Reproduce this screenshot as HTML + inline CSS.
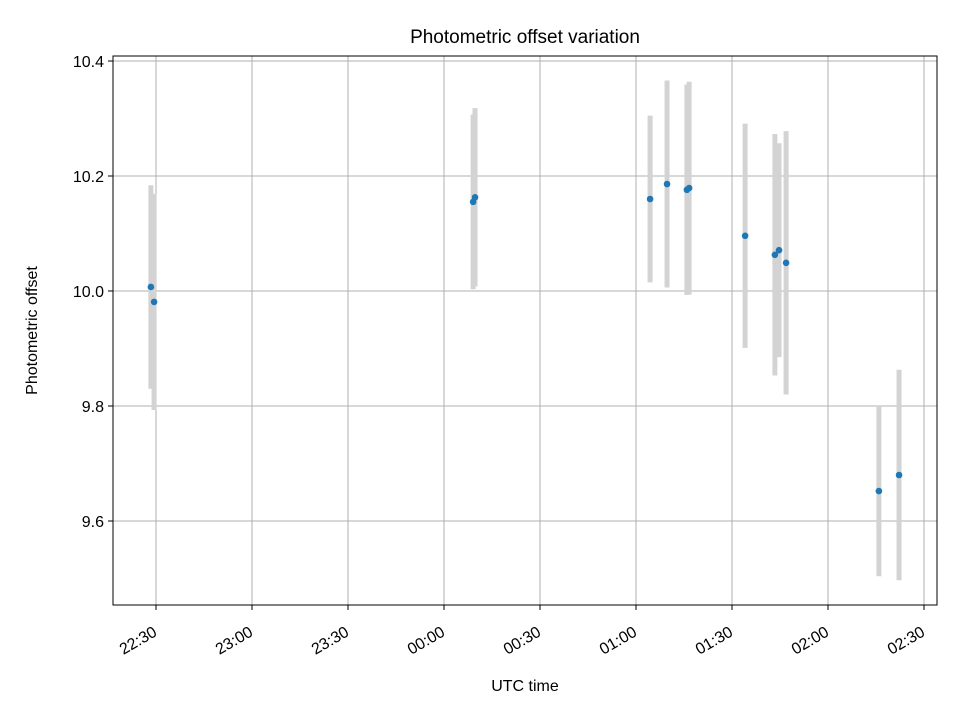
<!DOCTYPE html>
<html><head><meta charset="utf-8"><style>body{margin:0;background:#fff}svg{font-family:"Liberation Sans","DejaVu Sans",sans-serif}</style></head>
<body>
<svg id="chart" width="960" height="720" xmlns="http://www.w3.org/2000/svg"></svg>
<script>
// minutes after 22:30 UTC
const times = [-1.6, -0.6, 99.1, 99.7, 154.4, 159.7, 165.9, 166.6, 184.1, 193.4, 194.7, 196.9, 225.9, 232.2];
const offsets = [10.007, 9.981, 10.155, 10.163, 10.160, 10.186, 10.176, 10.179, 10.096, 10.063, 10.071, 10.049, 9.652, 9.680];
const errors = [0.177, 0.188, 0.152, 0.155, 0.145, 0.180, 0.183, 0.185, 0.195, 0.210, 0.186, 0.229, 0.148, 0.183];
const xTicks = [0, 30, 60, 90, 120, 150, 180, 210, 240];
const xTickLabels = ["22:30","23:00","23:30","00:00","00:30","01:00","01:30","02:00","02:30"];
const yTicks = [9.6, 9.8, 10.0, 10.2, 10.4];

const L=113,R=937,T=56,B=605;
const xMin=-13.44,xMax=244.06,yMin=9.4539,yMax=10.4087;
const xs=v=>L+(v-xMin)/(xMax-xMin)*(R-L);
const ys=v=>B-(v-yMin)/(yMax-yMin)*(B-T);
const svg=document.getElementById('chart');
const NS='http://www.w3.org/2000/svg';
function mk(tag,attrs,parent){const e=document.createElementNS(NS,tag);for(const k in attrs)e.setAttribute(k,attrs[k]);(parent||svg).appendChild(e);return e;}

const grid=mk('g',{});


xTicks.forEach((t,i)=>{
  const x=xs(t);
  mk('line',{x1:x,x2:x,y1:T,y2:B,stroke:'#b0b0b0','stroke-width':1},grid);
  mk('line',{x1:x,x2:x,y1:B,y2:B+5,stroke:'#000','stroke-width':1});
  const ax=x+2, ay=B+30;
  const tx=mk('text',{x:ax,y:ay,'font-size':16,'text-anchor':'end',transform:`rotate(-30 ${ax} ${ay})`});
  
  
  tx.textContent=xTickLabels[i];
});
yTicks.forEach(t=>{
  const y=ys(t);
  mk('line',{x1:L,x2:R,y1:y,y2:y,stroke:'#b0b0b0','stroke-width':1},grid);
  mk('line',{x1:L-5,x2:L,y1:y,y2:y,stroke:'#000','stroke-width':1});
  const tx=mk('text',{x:L-9,y:y+6,'font-size':16,'text-anchor':'end'});
  
  
  tx.textContent=t.toFixed(1);
});
const eb=mk('g',{});


times.forEach((t,i)=>{
  const l=mk('line',{x1:xs(t),x2:xs(t),y1:ys(offsets[i]+errors[i]),y2:ys(offsets[i]-errors[i]),stroke:'#d3d3d3','stroke-width':5},eb);
  
  
});
const pts=mk('g',{});


times.forEach((t,i)=>{
  const c=mk('circle',{cx:xs(t),cy:ys(offsets[i]),r:3.3,fill:'#1f77b4'},pts);
  
  
});
const fr=mk('rect',{x:L,y:T,width:R-L,height:B-T,fill:'none',stroke:'#000','stroke-width':1});


const ti=mk('text',{x:(L+R)/2,y:43,'font-size':19,'text-anchor':'middle'});


ti.textContent='Photometric offset variation';
const xl=mk('text',{x:(L+R)/2,y:691,'font-size':16,'text-anchor':'middle'});


xl.textContent='UTC time';
const yl=mk('text',{x:37,y:(T+B)/2,'font-size':16,'text-anchor':'middle',transform:`rotate(-90 37 ${(T+B)/2})`});


yl.textContent='Photometric offset';
</script>
</body></html>
